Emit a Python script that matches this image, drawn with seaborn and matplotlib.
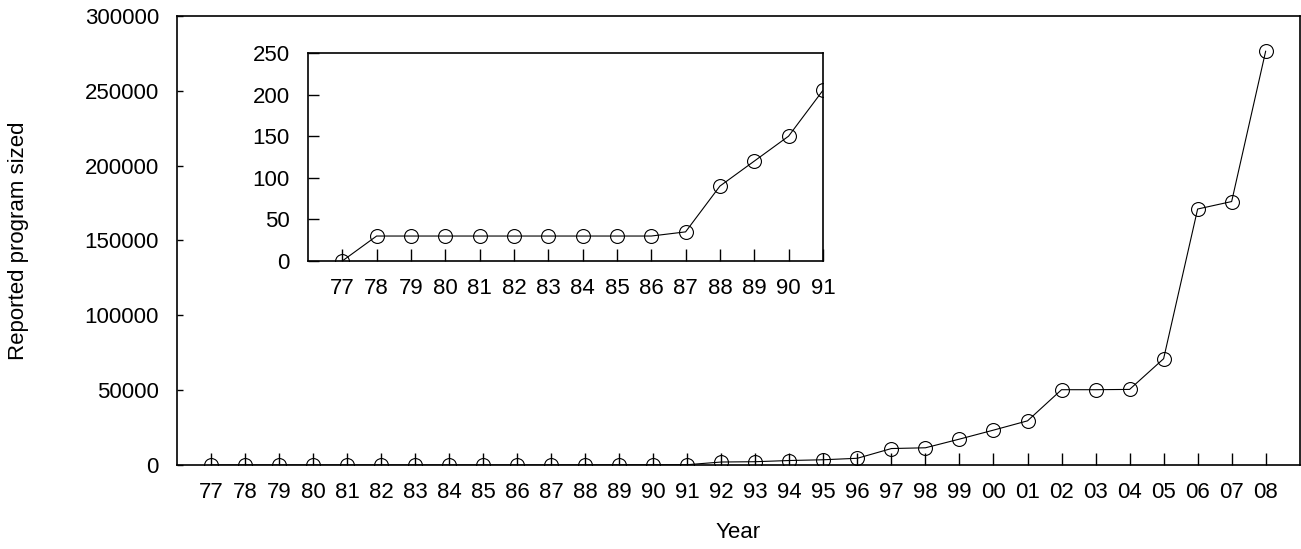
import seaborn as sns
import matplotlib.pyplot as plt
import pandas as pd

# Year labels and reported program sizes
years = ['77', '78', '79', '80', '81', '82', '83', '84', '85', '86', '87', '88', '89', '90', '91',
         '92', '93', '94', '95', '96', '97', '98', '99', '00', '01', '02', '03', '04', '05', '06',
         '07', '08']
sizes = [0, 30, 30, 30, 30, 30, 30, 30, 30, 30, 35, 90, 120, 150, 205,
         2000, 2200, 3000, 3500, 4500, 11000, 11500, 17300, 23300, 29500, 50300, 50300, 50500,
         71000, 171000, 176000, 276500]

# inset covers 77..91
inset_years = years[:15]
inset_sizes = sizes[:15]

sns.set_style('ticks')
plt.rcParams['font.family'] = ['Liberation Sans', 'DejaVu Sans']
for k in ['text.color', 'axes.labelcolor', 'xtick.color', 'ytick.color', 'axes.edgecolor']:
    plt.rcParams[k] = 'black'

df = pd.DataFrame({'idx': range(len(years)), 'size': sizes})
df_in = pd.DataFrame({'idx': range(len(inset_years)), 'size': inset_sizes})

fig = plt.figure(figsize=(13.01, 5.49), dpi=100)
ax = fig.add_axes([0.136, 0.153, 0.863, 0.818])

line_kw = dict(color='black', lw=0.8, marker='o', markersize=10,
               markerfacecolor='none', markeredgecolor='black', markeredgewidth=0.8)
fs = 16

sns.lineplot(data=df, x='idx', y='size', ax=ax, **line_kw)
ax.set_xlim(-1, 32)
ax.set_ylim(0, 300000)
ax.set_xticks(range(len(years)))
ax.set_xticklabels(years)
ax.set_yticks(range(0, 300001, 50000))
ax.tick_params(axis='x', direction='in', length=9, width=1, labelsize=fs, pad=12)
ax.tick_params(axis='y', direction='in', length=4, width=1, labelsize=fs, pad=13)
ax.set_xlabel('Year', fontsize=fs, labelpad=14)
ax.set_ylabel('Reported program sized', fontsize=fs, labelpad=40)
for s in ax.spines.values():
    s.set_linewidth(1.2)

# inset
axi = fig.add_axes([0.2367, 0.5246, 0.3958, 0.3789])
sns.lineplot(data=df_in, x='idx', y='size', ax=axi, **line_kw)
axi.set_xlim(-1, 14)
axi.set_ylim(0, 250)
axi.set_xticks(range(len(inset_years)))
axi.set_xticklabels(inset_years)
axi.set_yticks(range(0, 251, 50))
axi.tick_params(axis='x', direction='in', length=9, width=1, labelsize=fs, pad=12)
axi.tick_params(axis='y', direction='in', length=8, width=1, labelsize=fs, pad=13)
axi.set_xlabel('')
axi.set_ylabel('')
for s in axi.spines.values():
    s.set_linewidth(1.2)

fig.savefig('out.png', dpi=100)
